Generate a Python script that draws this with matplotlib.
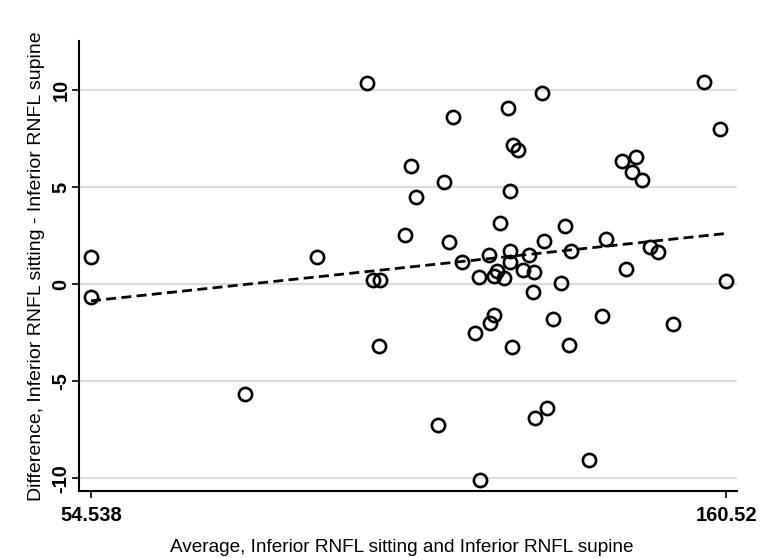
import numpy as np
import matplotlib
matplotlib.use("Agg")
import matplotlib.pyplot as plt

plt.rcParams['font.family'] = ['Liberation Sans', 'DejaVu Sans']

# srednia z dwoch pomiarow (os x)
srednia = [54.54, 54.54, 80.24, 92.26, 100.60, 101.60, 102.77, 102.61, 106.89, 107.89,
           108.73, 112.40, 113.50, 114.24, 114.96, 116.41, 118.58, 119.21, 119.46, 120.88,
           121.13, 121.80, 121.80, 122.25, 122.75, 123.43, 124.08, 124.39, 124.52, 124.75,
           124.39, 124.97, 125.75, 126.69, 127.69, 128.36, 128.47, 128.64, 129.86, 130.14,
           130.69, 131.70, 132.98, 133.56, 134.57, 134.37, 137.71, 139.74, 140.54, 143.11,
           143.88, 144.78, 145.55, 146.50, 147.78, 149.17, 151.62, 156.90, 159.52, 160.52]
# roznica pomiarow (os y)
roznica = [1.39, -0.67, -5.65, 1.41, 10.36, 0.19, 0.22, -3.18, 2.54, 6.06,
           4.50, -7.24, 5.24, 2.18, 8.61, 1.13, -2.53, 0.39, -10.09, 1.50,
           -1.98, -1.60, 0.43, 0.70, 3.14, 0.31, 9.07, 1.73, 4.79, -3.25,
           1.15, 7.16, 6.92, 0.74, 1.51, -0.42, 0.60, -6.89, 9.85, 2.23,
           -6.36, -1.80, 0.07, 3.00, 1.71, -3.14, -9.06, -1.66, 2.34, 6.36,
           0.79, 5.77, 6.53, 5.38, 1.92, 1.63, -2.05, 10.39, 8.01, 0.17]

# linia regresji
fit_x = [54.538, 160.52]
fit_y = [-0.86, 2.61]

x_ticks = [54.538, 160.52]
x_tick_labels = ['54.538', '160.52']
y_ticks = [-10, -5, 0, 5, 10]

fig = plt.figure(figsize=(7.64, 5.58), dpi=100)
ax = fig.add_axes([0.1034, 0.1206, 0.8613, 0.8065])

for yt in y_ticks:
    ax.axhline(yt, color='#dcdcdc', linewidth=1.6, zorder=0)

ax.plot(fit_x, fit_y, color='black', linestyle=(0, (3.6, 1.9)), linewidth=2.0, zorder=2)
ax.plot(srednia, roznica, linestyle='none', marker='o', markersize=9.5,
        markerfacecolor='none', markeredgecolor='black', markeredgewidth=1.9, zorder=3)

ax.set_xlim(52.535, 162.35)
ax.set_ylim(-10.64, 12.54)

ax.set_xticks(x_ticks)
ax.set_xticklabels(x_tick_labels, fontsize=14.5, fontweight='bold')
ax.set_yticks(y_ticks)
ax.set_yticklabels([str(v) for v in y_ticks], fontsize=14.5, fontweight='bold',
                   rotation=90, va='center')

ax.tick_params(axis='x', length=5, width=1.2, pad=6)
ax.tick_params(axis='y', length=5, width=1.2, pad=1)

for s in ['top', 'right']:
    ax.spines[s].set_visible(False)
for s in ['left', 'bottom']:
    ax.spines[s].set_linewidth(1.5)

ax.set_xlabel('Average, Inferior RNFL sitting and Inferior RNFL supine', fontsize=13.7)
ax.set_ylabel('Difference, Inferior RNFL sitting - Inferior RNFL supine', fontsize=14)
ax.xaxis.set_label_coords(0.49, -0.108)
ax.yaxis.set_label_coords(-0.052, 0.5)

fig.savefig('out.png', dpi=100)
